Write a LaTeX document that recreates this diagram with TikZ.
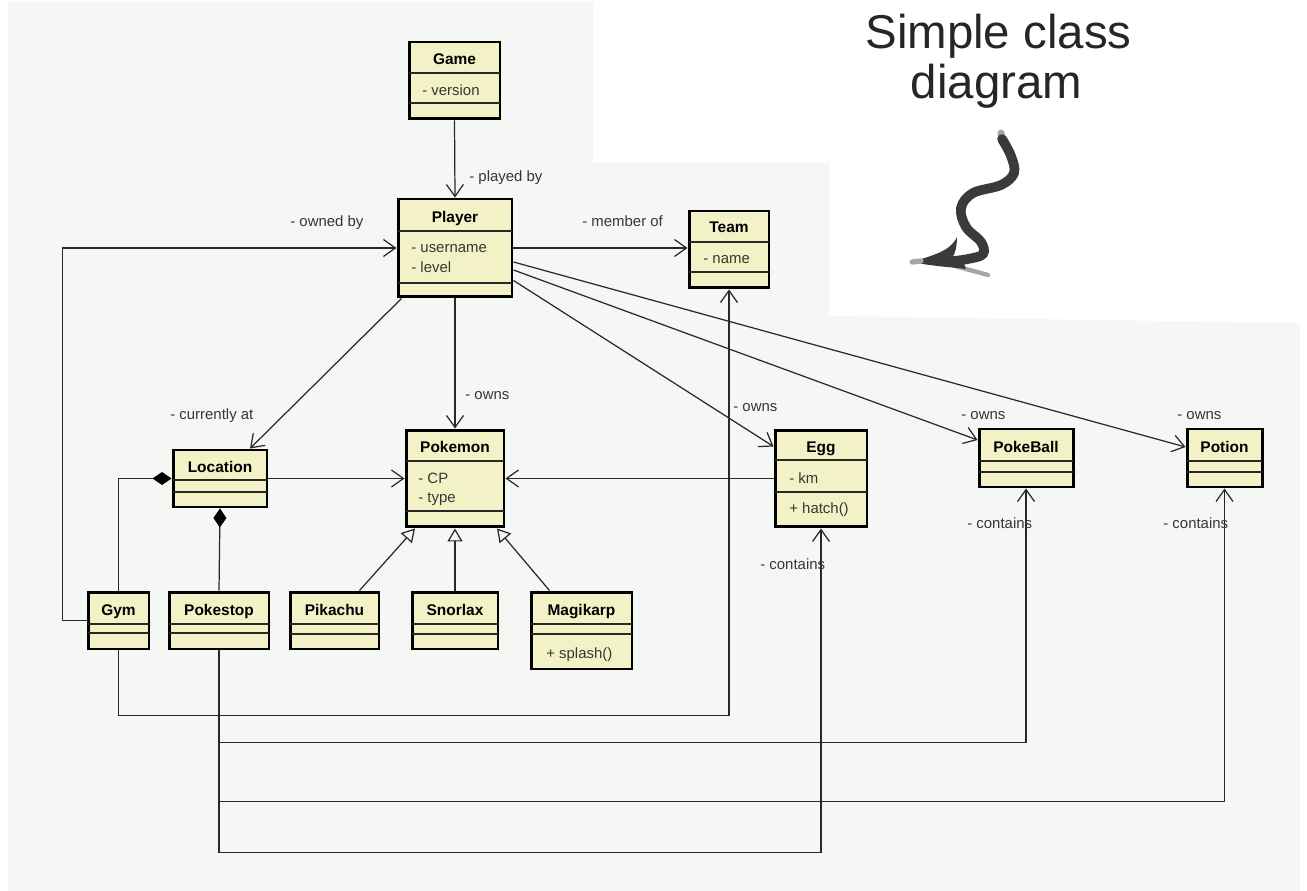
\documentclass[tikz,border=0pt]{standalone}
\usepackage{fontspec}
\setmainfont{Liberation Sans}
\usepackage{xcolor}
\usepackage{tikz}
\usetikzlibrary{arrows.meta,calc}
\definecolor{bgc}{RGB}{245,247,245}
\definecolor{boxc}{RGB}{243,242,198}
\definecolor{txtc}{RGB}{55,55,50}
\definecolor{linec}{RGB}{40,40,40}
\definecolor{squigc}{RGB}{58,58,58}
\tikzstyle{cls}=[draw=black,fill=boxc,line width=1.7pt,inner sep=0pt]
\tikzstyle{cname}=[font=\fontsize{8.8}{10}\selectfont\bfseries,inner sep=0pt,anchor=base]
\tikzstyle{attr}=[font=\fontsize{8.5}{10}\selectfont,text=txtc,inner sep=0pt,anchor=base west]
\tikzstyle{lbl}=[font=\fontsize{8.5}{10}\selectfont,text=txtc,inner sep=0pt,anchor=base west]
\tikzstyle{div}=[line width=0.8pt,draw=linec]
\tikzstyle{assoc}=[-{Straight Barb[length=0.24cm,width=0.34cm]},line width=0.7pt,draw=linec]
\tikzstyle{inherit}=[-{Triangle[open,length=0.26cm,width=0.3cm]},line width=0.7pt,draw=linec]
\tikzstyle{comp}=[{Diamond[length=0.38cm,width=0.26cm,color=black]}-,line width=0.7pt,draw=linec]
\tikzstyle{squig}=[line width=5.5pt,draw=squigc,line cap=round]

\begin{document}
\begin{tikzpicture}[x=0.02cm,y=-0.02cm]
        \useasboundingbox (0,0) rectangle (1307,891);
        \fill[white] (0,0) rectangle (1307,891);
        \fill[bgc] (8,2) -- (593,2) -- (593,163) -- (829,163) -- (829,316)
          -- (1300,323) -- (1300,891) -- (8,891) -- cycle;

        % classes
        \node[cls,minimum width=1.82cm,minimum height=1.54cm] (game) at (454.5,80.5) {};
        \draw[div] (409,73) -- (500,73) (409,103) -- (500,103);
        \node[cname] (gameN) at (454.5,65) {Game};
        \node[attr] (gameA) at (422,96) {- version};

        \node[cls,minimum width=2.28cm,minimum height=1.96cm] (player) at (455,248) {};
        \draw[div] (398,231) -- (512,231) (398,283) -- (512,283);
        \node[cname] (playerN) at (455,223) {Player};
        \node[attr] (playerA) at (411,253) {- username};
        \node[attr] (playerB) at (411,273) {- level};

        \node[cls,minimum width=1.6cm,minimum height=1.54cm] (team) at (729,249.5) {};
        \draw[div] (689,242) -- (769,242) (689,272) -- (769,272);
        \node[cname] (teamN) at (729,233) {Team};
        \node[attr] (teamA) at (703,264) {- name};

        \node[cls,minimum width=1.88cm,minimum height=1.14cm] (location) at (220,478.5) {};
        \draw[div] (173,480) -- (267,480) (173,492) -- (267,492);
        \node[cname] (locationN) at (220,472) {Location};

        \node[cls,minimum width=1.22cm,minimum height=1.14cm] (gym) at (118.5,620.5) {};
        \draw[div] (88,624) -- (149,624) (88,633) -- (149,633);
        \node[cname] (gymN) at (118.5,615) {Gym};

        \node[cls,minimum width=2cm,minimum height=1.14cm] (pokestop) at (219,620.5) {};
        \draw[div] (169,624) -- (269,624) (169,633) -- (269,633);
        \node[cname] (pokestopN) at (219,615) {Pokestop};

        \node[cls,minimum width=1.96cm,minimum height=1.94cm] (pokemon) at (455,478.5) {};
        \draw[div] (406,461) -- (504,461) (406,511) -- (504,511);
        \node[cname] (pokemonN) at (455,452) {Pokemon};
        \node[attr] (pokemonA) at (418,483) {- CP};
        \node[attr] (pokemonB) at (418,502) {- type};

        \node[cls,minimum width=1.78cm,minimum height=1.14cm] (pikachu) at (334.5,620.5) {};
        \draw[div] (290,624) -- (379,624) (290,634) -- (379,634);
        \node[cname] (pikachuN) at (334.5,615) {Pikachu};

        \node[cls,minimum width=1.72cm,minimum height=1.14cm] (snorlax) at (455,620.5) {};
        \draw[div] (412,624) -- (498,624) (412,634) -- (498,634);
        \node[cname] (snorlaxN) at (455,615) {Snorlax};

        \node[cls,minimum width=2.02cm,minimum height=1.54cm] (magikarp) at (581.5,630.5) {};
        \draw[div] (531,624) -- (632,624) (531,634) -- (632,634);
        \node[cname] (magikarpN) at (581.5,615) {Magikarp};
        \node[attr] (magikarpO) at (546,658) {+ splash()};

        \node[cls,minimum width=1.84cm,minimum height=1.94cm] (egg) at (821,478.5) {};
        \draw[div] (775,460) -- (867,460) (775,492) -- (867,492);
        \node[cname] (eggN) at (821,452) {Egg};
        \node[attr] (eggA) at (789,483) {- km};
        \node[attr] (eggO) at (789,513) {+ hatch()};

        \node[cls,minimum width=1.88cm,minimum height=1.16cm] (pokeball) at (1026,458) {};
        \draw[div] (979,461) -- (1073,461) (979,472) -- (1073,472);
        \node[cname] (pokeballN) at (1026,452) {PokeBall};

        \node[cls,minimum width=1.5cm,minimum height=1.16cm] (potion) at (1224.5,458) {};
        \draw[div] (1187,461) -- (1262,461) (1187,472) -- (1262,472);
        \node[cname] (potionN) at (1224.5,452) {Potion};

        % associations
        \draw[assoc] (game.south) -- (player.north);
        \draw[assoc] (gym.west) -- ++(-24,0) |- (player.west);
        \draw[assoc] (player.east) -- (player.east -| team.west);
        \draw[assoc] ($(player.south west)+(5,0)$) -- ($(location.north)+(30,0)$);
        \draw[assoc] (player.south) -- (pokemon.north);
        \draw[assoc] ($(player.south east)+(0,-18)$) -- ($(egg.north west)+(0,18)$);
        \draw[assoc] ($(player.east)+(0,22)$) -- ($(pokeball.west)+(0,-18)$);
        \draw[assoc] ($(player.east)+(0,14)$) -- ($(potion.west)+(0,-11)$);
        \draw[assoc] (location.east) -- (pokemon.west);
        \draw[assoc] (egg.west) -- (pokemon.east);
        \draw[assoc] (gym.south) -- ++(0,65) -| (team.south);
        \draw[assoc] (pokestop.south) -- ++(0,92) -| (pokeball.south);
        \draw[assoc] (pokestop.south) -- ++(0,151) -| (potion.south);
        \draw[assoc] (pokestop.south) -- ++(0,202) -| (egg.south);

        \draw[comp] (location.west) -| (gym.north);
        \draw[comp] (location.south) -- (pokestop.north);

        \draw[inherit] ($(pikachu.north)+(25,0)$) -- ($(pokemon.south)+(-40,0)$);
        \draw[inherit] (snorlax.north) -- (pokemon.south);
        \draw[inherit] ($(magikarp.north)+(-32,0)$) -- ($(pokemon.south)+(42,0)$);

        % role labels
        \node[lbl] (playedby) at (469,182) {- played by};
        \node[lbl] (ownedby) at (290,227) {- owned by};
        \node[lbl] (memberof) at (582,227) {- member of};
        \node[lbl] (currentlyat) at (170,419) {- currently at};
        \node[lbl] (ownsPokemon) at (465,399) {- owns};
        \node[lbl] (ownsEgg) at (733,412) {- owns};
        \node[lbl] (ownsPokeball) at (961,419) {- owns};
        \node[lbl] (ownsPotion) at (1177,419) {- owns};
        \node[lbl] (containsPokeball) at (967,528) {- contains};
        \node[lbl] (containsPotion) at (1163,528) {- contains};
        \node[lbl] (containsEgg) at (760,569) {- contains};

        % title and pointer
        \node[font=\fontsize{27}{30}\selectfont,text=black!85,inner sep=0pt,anchor=base] (titleA) at (998.5,49) {Simple class};
        \node[font=\fontsize{27}{30}\selectfont,text=black!85,inner sep=0pt,anchor=base] (titleB) at (996.5,99) {diagram};
        \draw[gray!70,line width=4pt,line cap=round] (1001,133) -- (1003,142);
        \draw[squig] plot[smooth,tension=0.6] coordinates {(1002,139) (1011,156) (1014,173) (1001,185)
          (973,193) (961,208) (966,227) (981,242) (983,254) (968,259) (945,262)};
        \draw[gray!70,line width=2.5pt,line cap=round] (955,266) -- (988,275);
        \fill[squigc] (913,262) .. controls (932,255) and (950,252) .. (957,237)
          .. controls (957,249) and (954,256) .. (951,259) -- (963,261) -- (966,269)
          .. controls (950,267) and (930,266) .. (913,262) -- cycle;
        \draw[gray!70,line width=3pt,line cap=round] (912,262) -- (921,261);
      \end{tikzpicture}
\end{document}
